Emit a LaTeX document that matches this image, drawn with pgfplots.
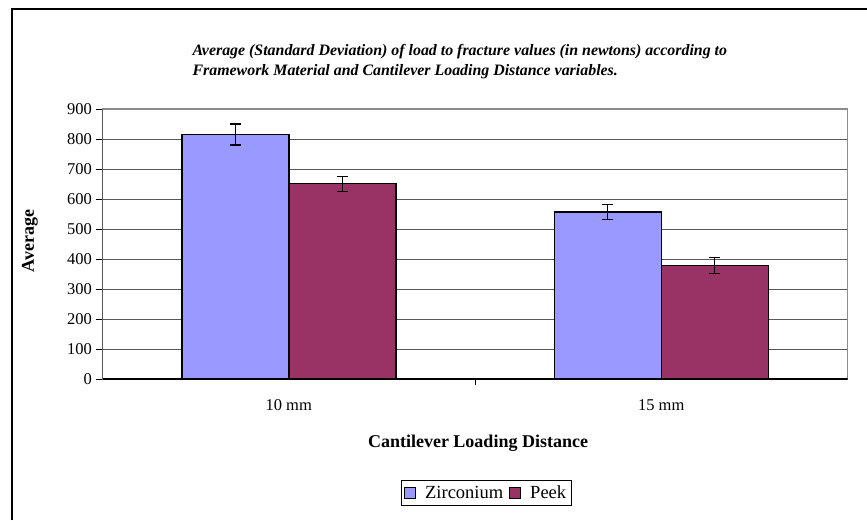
\documentclass[border=0pt]{standalone}
\usepackage{fontspec}
\setmainfont{Liberation Serif}
\usepackage{pgfplots}
\pgfplotsset{compat=1.18}

\definecolor{zirc}{HTML}{9999FF}
\definecolor{peek}{HTML}{993366}

\begin{document}
\begin{tikzpicture}[x=1pt,y=1pt]
\useasboundingbox (0,0) rectangle (867,520);
% outer frame (cut on right and bottom)
\draw[black, line width=1.2pt] (12,0) -- (12,511) -- (867,511);

\node[anchor=base west, font=\fontsize{15.9}{18}\selectfont\bfseries\itshape]
  at (189,464) {Average (Standard Deviation) of load to fracture values (in newtons) according to};
\node[anchor=base west, font=\fontsize{15.9}{18}\selectfont\bfseries\itshape]
  at (189,444) {Framework Material and Cantilever Loading Distance variables.};

\begin{axis}[
    at={(102.5pt,141pt)}, anchor=south west,
    scale only axis, width=745pt, height=270pt,
    xmin=-0.5, xmax=1.5,
    ymin=0, ymax=900,
    ytick={0,100,...,900},
    xtick={0,1},
    xticklabels={10 mm, 15 mm},
    minor xtick={0.5},
    xtick pos=bottom, ytick pos=left,
    major x tick style={draw=none},
    minor tick length=6pt,
    major tick length=7pt,
    tick align=outside,
    tick style={black, line width=1pt},
    ymajorgrids=true,
    grid style={black!65, line width=1pt},
    axis line style={draw=black!45, line width=1.5pt},
    ticklabel style={font=\fontsize{16.5}{16.5}\selectfont},
    /pgf/number format/assume math mode=true,
    xticklabel style={yshift=-10pt},
    ybar=0pt,
    bar width=107pt,
    legend columns=2,
    legend style={at={(0.515,-0.422)}, anchor=center, draw=black, line width=0.8pt,
        font=\fontsize{18.5}{18.5}\selectfont, inner sep=3pt,
        /tikz/every even column/.append style={column sep=4pt},
        /tikz/every odd column/.append style={column sep=7pt}},
    legend image code/.code={\draw[#1, draw=black, line width=1pt] (0pt,-5.5pt) rectangle (11pt,5.5pt);},
    error bars/error bar style={black, line width=1.3pt},
    error bars/error mark options={black, rotate=90, mark size=5.5pt, line width=1.3pt},
]
\addplot[fill=zirc, draw=black, line width=1.5pt,
    error bars/.cd, y dir=both, y explicit]
    coordinates {(0,815) +- (0,35) (1,556) +- (0,25)};
\addplot[fill=peek, draw=black, line width=1.5pt,
    error bars/.cd, y dir=both, y explicit]
    coordinates {(0,651) +- (0,25) (1,378) +- (0,26)};
\legend{Zirconium, Peek}
\draw[black, line width=1.5pt] (rel axis cs:0,1) -- (rel axis cs:0,0) -- (rel axis cs:1,0);
\end{axis}

\node[rotate=90, font=\fontsize{18}{18}\selectfont\bfseries] at (30,279) {Average};
\node[font=\fontsize{18}{18}\selectfont\bfseries] at (478,77) {Cantilever Loading Distance};
\end{tikzpicture}
\end{document}
